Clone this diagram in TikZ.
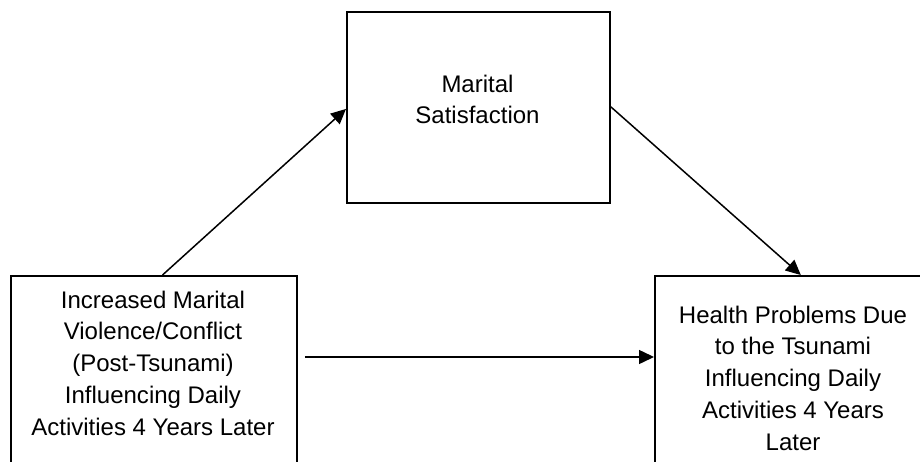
\documentclass[tikz,border=0pt]{standalone}
\usepackage{fontspec}
\setmainfont{Liberation Sans}
\usetikzlibrary{arrows.meta,calc}
\begin{document}
\begin{tikzpicture}[x=1pt,y=-1pt,
  box/.style={draw=black,line width=1.8pt,rectangle,inner sep=0pt,anchor=north west},
  lbl/.style={align=center,font=\fontsize{24}{31.7}\selectfont,inner sep=0pt,anchor=base},
  arr/.style={line width=1.5pt,-{Triangle[length=15pt,width=14pt]}}]
\useasboundingbox (0,0) rectangle (920,462);
\clip (0,0) rectangle (920,462);
\node[box,minimum width=263pt,minimum height=191pt] (T) at (346,11) {};
\node[box,minimum width=286pt,minimum height=220pt] (L) at (10,275) {};
\node[box,minimum width=280pt,minimum height=220pt] (R) at (654,275) {};
\node[lbl] (Tt) at (477.5,124) {Marital\\Satisfaction};
\node[lbl] (Lt) at (153,435) {Increased Marital\\Violence/Conflict\\(Post-Tsunami)\\Influencing Daily\\Activities 4 Years Later};
\node[lbl] (Rt) at (793,450) {Health Problems Due\\to the Tsunami\\Influencing Daily\\Activities 4 Years\\Later};
\draw[arr] ($(L.north west)!0.53!(L.north east)$) -- ($(T.north west)!0.508!(T.south west)$);
\draw[arr] ($(T.north east)!0.497!(T.south east)$) -- ($(R.north west)!0.521!(R.north east)$);
\draw[arr] ([shift={(7,82)}]L.north east) -- ([shift={(0,82)}]R.north west);
\end{tikzpicture}
\end{document}
